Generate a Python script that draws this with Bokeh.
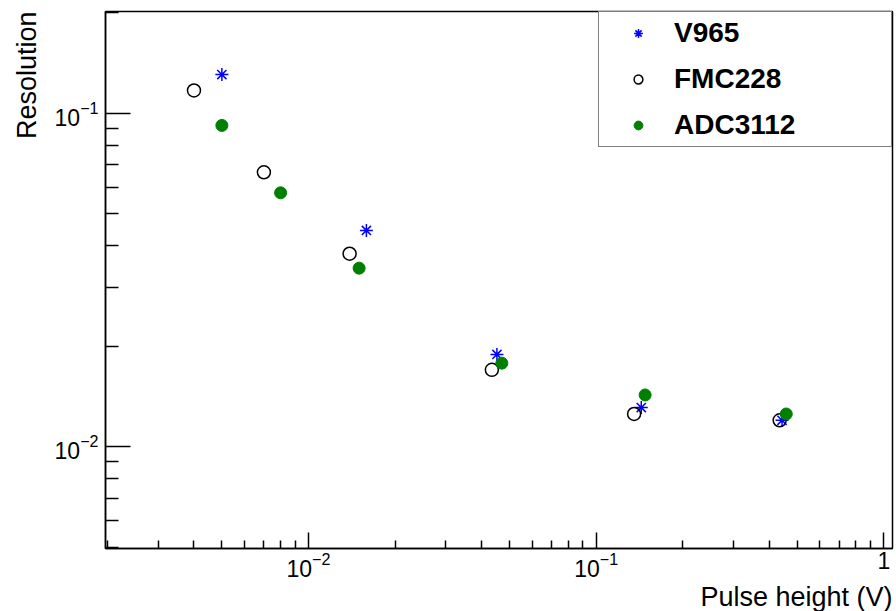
from bokeh.plotting import figure
from bokeh.models import FixedTicker, LogTickFormatter, Title, Legend, LegendItem, Range1d
from bokeh.embed import file_html
from bokeh.resources import INLINE

# ---- data ----
v965_x = [0.0050, 0.0159, 0.0452, 0.1435, 0.4428]
v965_y = [0.1306, 0.0445, 0.0189, 0.0131, 0.0120]
fmc228_x = [0.0040, 0.0070, 0.0139, 0.0434, 0.1355, 0.4345]
fmc228_y = [0.1170, 0.0665, 0.0379, 0.0170, 0.01253, 0.0120]
adc3112_x = [0.0050, 0.0080, 0.0150, 0.0470, 0.1480, 0.4580]
adc3112_y = [0.0919, 0.0577, 0.0343, 0.0178, 0.01429, 0.01253]

series_names = ["V965", "FMC228", "ADC3112"]

x_decades = [0.001, 0.01, 0.1, 1.0]
y_decades = [0.001, 0.01, 0.1, 1.0]
minor_multipliers = [2, 3, 4, 5, 6, 7, 8, 9]

x_limits = (0.00197, 1.072)
y_limits = (0.00495, 0.2018)

x_title = "Pulse height (V)"
y_title = "Resolution"

FONT = "Liberation Sans"

p = figure(width=896, height=611, x_axis_type="log", y_axis_type="log",
           output_backend="svg", toolbar_location=None, title=None,
           x_range=Range1d(*x_limits), y_range=Range1d(*y_limits),
           min_border_left=104, min_border_right=4, min_border_top=11,
           min_border_bottom=63)
p.background_fill_color = "white"
p.border_fill_color = "white"
p.grid.visible = False
p.outline_line_color = "black"
p.outline_line_width = 1.5

x_minor = [m * d for d in x_decades for m in minor_multipliers]
y_minor = [m * d for d in y_decades for m in minor_multipliers]

p.xaxis.ticker = FixedTicker(ticks=x_decades, minor_ticks=x_minor)
p.yaxis.ticker = FixedTicker(ticks=y_decades, minor_ticks=y_minor)
for ax in (p.xaxis, p.yaxis):
    ax.formatter = LogTickFormatter(min_exponent=1)
    ax.major_tick_out = 0
    ax.minor_tick_out = 0
    ax.axis_line_color = "black"
    ax.axis_line_width = 1.5
    ax.major_tick_line_color = "black"
    ax.minor_tick_line_color = "black"
    ax.major_tick_line_width = 1.5
    ax.minor_tick_line_width = 1.5
    ax.major_label_text_font = FONT
    ax.major_label_text_font_size = "23px"
    ax.major_label_text_color = "black"
p.xaxis.major_tick_in = 16
p.xaxis.minor_tick_in = 8
p.xaxis.major_label_standoff = 3
p.yaxis.major_tick_in = 25
p.yaxis.minor_tick_in = 13
p.yaxis.major_label_standoff = 7

yt = Title(text=y_title, align="right", text_font=FONT, text_font_size="27px",
           text_font_style="normal", text_color="black", standoff=19)
p.add_layout(yt, "left")

xt = Title(text=x_title, align="right", text_font=FONT, text_font_size="27px",
           text_font_style="normal", text_color="black", standoff=0)
p.add_layout(xt, "below")

r1 = p.scatter(v965_x, v965_y, marker="asterisk", size=13, line_color="blue",
               line_width=1.5)
r2 = p.scatter(fmc228_x, fmc228_y, marker="circle", size=13, fill_color=None,
               line_color="black", line_width=1.5)
r3 = p.scatter(adc3112_x, adc3112_y, marker="circle", size=12, fill_color="#008000",
               line_color="#008000", line_width=1)

legend = Legend(items=[LegendItem(label=series_names[0], renderers=[r1]),
                       LegendItem(label=series_names[1], renderers=[r2]),
                       LegendItem(label=series_names[2], renderers=[r3])],
                location="top_right", margin=0, padding=5,
                glyph_width=68, glyph_height=22, label_height=22, spacing=14,
                label_standoff=2, label_width=212,
                label_text_font=FONT, label_text_font_size="28px",
                label_text_font_style="bold", label_text_color="black",
                border_line_color="black", border_line_width=1.5,
                background_fill_color="white", background_fill_alpha=1)
p.add_layout(legend)

open("out.html", "w").write(file_html(p, INLINE))
